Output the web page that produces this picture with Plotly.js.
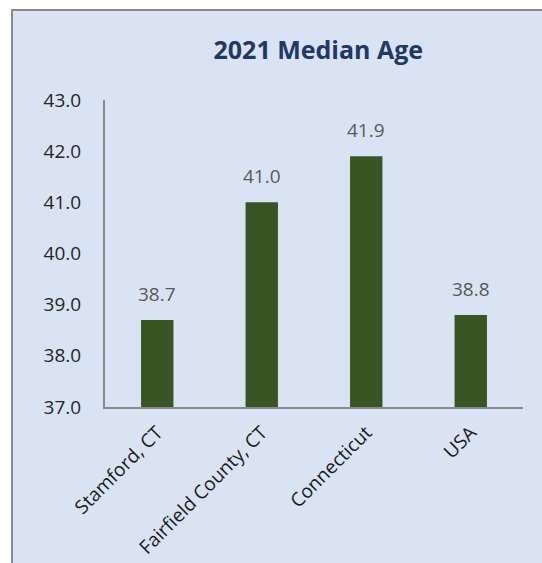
<!DOCTYPE html>
<html>
<head>
<meta charset="utf-8">
<script src="https://cdn.plot.ly/plotly-3.0.1.min.js"></script>
<style>
  html, body { margin:0; padding:0; background:#ffffff; width:542px; height:563px; overflow:hidden; }
  #frame { position:absolute; left:11px; top:9px; width:531px; height:554px; border-left:2px solid #8a8a8a; border-top:2px solid #8a8a8a; background:#dae3f3; }
  #chart { position:absolute; left:0; top:0; width:531px; height:554px; }
</style>
</head>
<body>
<div id="frame"><div id="chart"></div></div>
<script>
const categories = ["Stamford, CT", "Fairfield County, CT", "Connecticut", "USA"];
const medianAge = [38.7, 41.0, 41.9, 38.8];
const yTicks = [37, 38, 39, 40, 41, 42, 43];

const trace = {
  type: 'bar',
  x: categories,
  y: medianAge,
  marker: { color: '#375623' },
  hoverinfo: 'none'
};

const labels = categories.map((c, i) => ({
  x: c, y: medianAge[i], xref: 'x', yref: 'y',
  text: medianAge[i].toFixed(1),
  showarrow: false, yanchor: 'bottom', xanchor: 'center', yshift: 11,
  font: { family: 'Open Sans, sans-serif', size: 19, color: '#595959' }
}));

const layout = {
  width: 531, height: 554,
  paper_bgcolor: 'rgba(0,0,0,0)',
  plot_bgcolor: 'rgba(0,0,0,0)',
  margin: { l: 92, r: 21, t: 89, b: 158 },
  bargap: 0.69,
  showlegend: false,
  annotations: labels,
  title: {
    text: '<b>2021 Median Age</b>',
    font: { family: 'Open Sans, sans-serif', size: 25, color: '#1f3864' },
    xref: 'container', x: 0.575, xanchor: 'center',
    yref: 'container', y: 0.929, yanchor: 'middle'
  },
  xaxis: {
    type: 'category',
    showline: true, linecolor: '#8a8a8a', linewidth: 2,
    showgrid: false, zeroline: false,
    ticks: 'outside', ticklen: 5, tickcolor: 'rgba(0,0,0,0)', tickangle: -45,
    tickfont: { family: 'Open Sans, sans-serif', size: 19, color: '#1a1a1a' }
  },
  yaxis: {
    range: [37, 43],
    tickvals: yTicks,
    tickformat: '.1f',
    showline: true, linecolor: '#8a8a8a', linewidth: 2,
    showgrid: false, zeroline: false,
    ticks: 'outside', ticklen: 18, tickcolor: 'rgba(0,0,0,0)',
    tickfont: { family: 'Open Sans, sans-serif', size: 19, color: '#262626' }
  }
};

Plotly.newPlot('chart', [trace], layout, { displayModeBar: false, staticPlot: true });
</script>
</body>
</html>
